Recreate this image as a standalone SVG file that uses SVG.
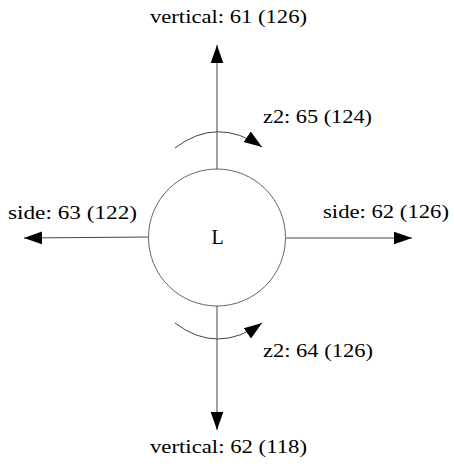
<svg xmlns="http://www.w3.org/2000/svg" width="454" height="470" viewBox="0 0 454 470">
<style>
text{font-family:"Liberation Serif","DejaVu Serif",serif;font-size:18px;fill:#000}
.c{stroke:#444;stroke-width:1;fill:none}
</style>
<defs>
<marker id="ah" viewBox="0 0 10 10" refX="10" refY="5" markerWidth="18" markerHeight="18" markerUnits="userSpaceOnUse" orient="auto">
<path d="M0,1.5 L10,5 L0,8.5 Z" fill="#000"/>
</marker>
</defs>
<rect width="454" height="470" fill="#fff"/>
<g id="L">
<circle cx="217" cy="237.5" r="68.5" fill="none" stroke="#666" stroke-width="1"/>
<text x="217.5" y="244" text-anchor="middle" style="font-size:20px">L</text>
</g>
<g id="connectors">
<line class="c" x1="217" y1="169" x2="217" y2="45" marker-end="url(#ah)"/>
<line class="c" x1="217" y1="306" x2="217" y2="430" marker-end="url(#ah)"/>
<line class="c" x1="148.5" y1="237" x2="24" y2="238" marker-end="url(#ah)"/>
<line class="c" x1="286" y1="238" x2="412" y2="238" marker-end="url(#ah)"/>
<path class="c" d="M175,148 Q217,116 262,147" marker-end="url(#ah)"/>
<path class="c" d="M175,323 Q217,355 262,323" marker-end="url(#ah)"/>
</g>
<g id="labels">
<text x="150" y="23" textLength="157" lengthAdjust="spacingAndGlyphs">vertical: 61 (126)</text>
<text x="263" y="123" textLength="109" lengthAdjust="spacingAndGlyphs">z2: 65 (124)</text>
<text x="8" y="219" textLength="129" lengthAdjust="spacingAndGlyphs">side: 63 (122)</text>
<text x="323" y="218" textLength="126" lengthAdjust="spacingAndGlyphs">side: 62 (126)</text>
<text x="263" y="357" textLength="110" lengthAdjust="spacingAndGlyphs">z2: 64 (126)</text>
<text x="150" y="453" textLength="157" lengthAdjust="spacingAndGlyphs">vertical: 62 (118)</text>
</g>
</svg>
